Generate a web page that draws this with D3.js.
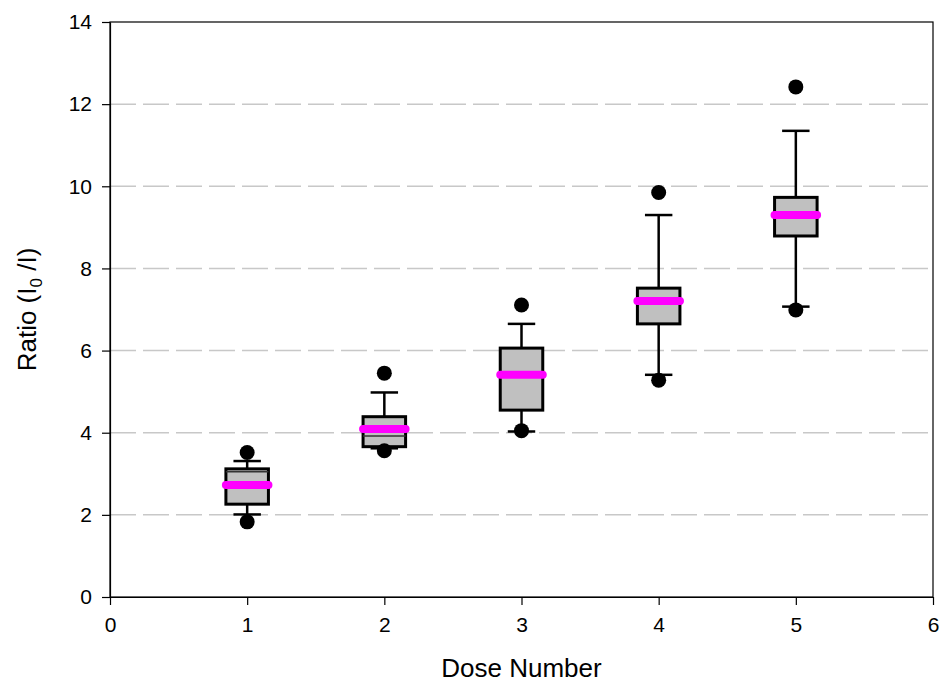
<!DOCTYPE html>
<html>
<head>
<meta charset="utf-8">
<script src="https://cdn.jsdelivr.net/npm/d3@7"></script>
<style>
  html, body { margin: 0; padding: 0; background: #fff; }
  svg { display: block; font-family: "Liberation Sans", Arial, sans-serif; }
</style>
</head>
<body>
<svg id="chart" width="943" height="687"></svg>
<script>
// Box plot summary per dose
const doses       = [1, 2, 3, 4, 5];
const q1          = [2.26, 3.66, 4.55, 6.65, 8.79];
const q3          = [3.12, 4.39, 6.06, 7.52, 9.73];
const medians     = [3.05, 3.92, 5.41, 7.21, 9.30];
const means       = [2.73, 4.09, 5.41, 7.21, 9.30];
const whiskerLow  = [2.01, 3.62, 4.03, 5.41, 7.07];
const whiskerHigh = [3.31, 4.98, 6.65, 9.30, 11.35];
const outlierLow  = [1.83, 3.56, 4.05, 5.28, 6.99];
const outlierHigh = [3.52, 5.45, 7.11, 9.85, 12.42];

const xTicks = [0, 1, 2, 3, 4, 5, 6];
const yTicks = [0, 2, 4, 6, 8, 10, 12, 14];
const gridValues = [2, 4, 6, 8, 10, 12];

const boxes = doses.map((d, i) => ({
  dose: d, q1: q1[i], q3: q3[i], median: medians[i], mean: means[i],
  lo: whiskerLow[i], hi: whiskerHigh[i], outLo: outlierLow[i], outHi: outlierHigh[i]
}));

const svg = d3.select("#chart");
const plotLeft = 110, plotRight = 933, plotTop = 22, plotBottom = 597;

const x = d3.scaleLinear().domain([0, 6]).range([plotLeft, plotRight]);
const y = d3.scaleLinear().domain([0, 14]).range([plotBottom, plotTop]);

const boxW = x(0.31) - x(0);
const capW = x(0.2) - x(0);

// dashed horizontal grid
svg.append("g").selectAll("line").data(gridValues).join("line")
  .attr("x1", plotLeft).attr("x2", plotRight)
  .attr("y1", d => y(d)).attr("y2", d => y(d))
  .attr("stroke", "#c8c8c8").attr("stroke-width", 1.5)
  .attr("stroke-dasharray", "26,7");

// frame
svg.append("rect")
  .attr("x", plotLeft).attr("y", plotTop)
  .attr("width", plotRight - plotLeft).attr("height", plotBottom - plotTop)
  .attr("fill", "none").attr("stroke", "#000").attr("stroke-width", 1.2);

// axes
const fmt = d3.format("d");
const yAxis = svg.append("g").attr("transform", `translate(${plotLeft},0)`)
  .call(d3.axisLeft(y).tickValues(yTicks).tickFormat(fmt).tickSize(8).tickSizeOuter(0).tickPadding(10));
const xAxis = svg.append("g").attr("transform", `translate(0,${plotBottom})`)
  .call(d3.axisBottom(x).tickValues(xTicks).tickFormat(fmt).tickSize(8).tickSizeOuter(0).tickPadding(12));

[yAxis, xAxis].forEach(a => {
  a.select(".domain").attr("stroke", "#000").attr("stroke-width", 1.2);
  a.selectAll(".tick line").attr("stroke", "#000").attr("stroke-width", 1.2);
  a.selectAll(".tick text").attr("fill", "#000")
    .style("font-size", "21px").style("font-family", "'Liberation Sans', Arial, sans-serif");
});

const g = svg.append("g");

// whiskers
g.selectAll("line.whisker").data(boxes).join("line").attr("class", "whisker")
  .attr("x1", d => x(d.dose)).attr("x2", d => x(d.dose))
  .attr("y1", d => y(d.lo)).attr("y2", d => y(d.hi))
  .attr("stroke", "#000").attr("stroke-width", 2.5);

// whisker caps
["lo", "hi"].forEach(k => {
  g.selectAll("line.cap-" + k).data(boxes).join("line").attr("class", "cap-" + k)
    .attr("x1", d => x(d.dose) - capW / 2).attr("x2", d => x(d.dose) + capW / 2)
    .attr("y1", d => y(d[k])).attr("y2", d => y(d[k]))
    .attr("stroke", "#000").attr("stroke-width", 2.5);
});

// boxes
g.selectAll("rect.box").data(boxes).join("rect").attr("class", "box")
  .attr("x", d => x(d.dose) - boxW / 2)
  .attr("y", d => y(d.q3))
  .attr("width", boxW)
  .attr("height", d => y(d.q1) - y(d.q3))
  .attr("fill", "#c0c0c0").attr("stroke", "#000").attr("stroke-width", 3);

// medians
g.selectAll("line.median").data(boxes).join("line").attr("class", "median")
  .attr("x1", d => x(d.dose) - boxW / 2).attr("x2", d => x(d.dose) + boxW / 2)
  .attr("y1", d => y(d.median)).attr("y2", d => y(d.median))
  .attr("stroke", "#333").attr("stroke-width", 1.5);

// means
g.selectAll("line.mean").data(boxes).join("line").attr("class", "mean")
  .attr("x1", d => x(d.dose) - boxW / 2).attr("x2", d => x(d.dose) + boxW / 2)
  .attr("y1", d => y(d.mean)).attr("y2", d => y(d.mean))
  .attr("stroke", "#ff00ff").attr("stroke-width", 8).attr("stroke-linecap", "round");

// outliers
["outLo", "outHi"].forEach(k => {
  g.selectAll("circle." + k).data(boxes).join("circle").attr("class", k)
    .attr("cx", d => x(d.dose)).attr("cy", d => y(d[k]))
    .attr("r", 7.5).attr("fill", "#000");
});

// axis titles
svg.append("text")
  .attr("x", (plotLeft + plotRight) / 2).attr("y", 677)
  .attr("text-anchor", "middle").style("font-size", "26px").attr("fill", "#000")
  .text("Dose Number");

const yt = svg.append("text")
  .attr("transform", `translate(36,${(plotTop + plotBottom) / 2}) rotate(-90)`)
  .attr("text-anchor", "middle").style("font-size", "26px").attr("fill", "#000");
yt.append("tspan").text("Ratio (I");
yt.append("tspan").attr("dy", 6).style("font-size", "17px").text("0");
yt.append("tspan").attr("dy", -6).text(" /I)");
</script>
</body>
</html>
